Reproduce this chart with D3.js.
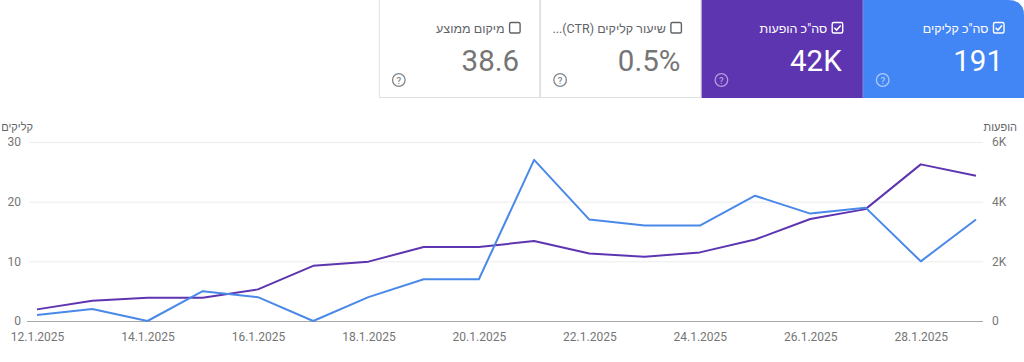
<!DOCTYPE html>
<html>
<head>
<meta charset="utf-8">
<script src="https://cdn.jsdelivr.net/npm/d3@7/dist/d3.min.js"></script>
<style>
  body { margin: 0; background: #fff; }
  svg { display: block; font-family: Roboto, "Liberation Sans", sans-serif; }
</style>
</head>
<body>
<svg width="1024" height="362"></svg>
<script>
const dates = ["12.1.2025","13.1.2025","14.1.2025","15.1.2025","16.1.2025","17.1.2025","18.1.2025","19.1.2025","20.1.2025",
  "21.1.2025","22.1.2025","23.1.2025","24.1.2025","25.1.2025","26.1.2025","27.1.2025","28.1.2025","29.1.2025"];
const clicks = [1, 2, 0, 5, 4, 0, 4, 7, 7, 27, 17, 16, 16, 21, 18, 19, 10, 17];
const impressions = [390, 680, 780, 780, 1060, 1850, 1990, 2480, 2480, 2680, 2260, 2150, 2300, 2730, 3420, 3750, 5250, 4870];
const clickTicks = [0, 10, 20, 30];
const imprTicks = [0, 2000, 4000, 6000];

// summary cards, right to left
const cards = [
  { label: "סה\"כ קליקים", value: "191", on: true, bg: "#4285f4" },
  { label: "סה\"כ הופעות", value: "42K", on: true, bg: "#5e35b1" },
  { label: "שיעור קליקים (CTR)...", value: "0.5%", on: false, bg: "#fff" },
  { label: "מיקום ממוצע", value: "38.6", on: false, bg: "#fff" }
];

const svg = d3.select("svg");

// ---- cards
const cardW = 161.3, cardH = 98;
const cardX = d3.scaleLinear().domain([0, 1]).range([1024 - cardW, 1024 - 2 * cardW]);

svg.append("clipPath").attr("id", "cardclip")
  .append("path")
  .attr("d", "M0,0 H1008 Q1024,0 1024,16 V362 H0 Z");

const cg = svg.append("g").attr("clip-path", "url(#cardclip)");

cards.forEach((c, i) => {
  const x0 = cardX(i);
  const g = cg.append("g").attr("transform", `translate(${x0},0)`);
  const fg = c.on ? "#fff" : "#5f6368";
  g.append("rect")
    .attr("x", 0.5).attr("y", -1)
    .attr("width", cardW - 1).attr("height", cardH + 0.5)
    .attr("fill", c.bg)
    .attr("stroke", c.on ? c.bg : "#e0e0e0");
  // checkbox
  const bx = cardW - 30.5, by = 22.5;
  g.append("rect")
    .attr("x", bx).attr("y", by).attr("width", 10.5).attr("height", 10.5).attr("rx", 1.5)
    .attr("fill", "none").attr("stroke", c.on ? "#fff" : "#5f6368").attr("stroke-width", 1.4);
  if (c.on) {
    g.append("path")
      .attr("d", `M${bx + 2.2},${by + 5.3} L${bx + 4.4},${by + 7.6} L${bx + 8.5},${by + 3}`)
      .attr("fill", "none").attr("stroke", "#fff").attr("stroke-width", 1.5);
  }
  g.append("text")
    .attr("x", bx - 5).attr("y", by + 10)
    .attr("text-anchor", "start")
    .attr("direction", "rtl")
    .attr("font-size", 12.5)
    .attr("fill", fg)
    .text(c.label);
  g.append("text")
    .attr("x", cardW - 21).attr("y", 70.5)
    .attr("text-anchor", "end")
    .attr("font-size", 29.5)
    .attr("fill", c.on ? "#fff" : "#757575")
    .text(c.value);
  // help icon
  const hc = c.on ? (i === 0 ? "#aecbfa" : "#b39ddb") : "#80868b";
  g.append("circle").attr("cx", 20).attr("cy", 80).attr("r", 6.3)
    .attr("fill", "none").attr("stroke", hc).attr("stroke-width", 1.3);
  g.append("text").attr("x", 20).attr("y", 83.5)
    .attr("text-anchor", "middle").attr("font-size", 9.5).attr("font-weight", 500)
    .attr("fill", hc).text("?");
});

// ---- chart
const x = d3.scalePoint().domain(dates).range([37, 976]);
const yL = d3.scaleLinear().domain([0, 30]).range([321, 142]);
const yR = d3.scaleLinear().domain([0, 6000]).range([321, 142]);

const grid = svg.append("g");
grid.selectAll("line").data(clickTicks.slice(1)).join("line")
  .attr("x1", 30).attr("x2", 983)
  .attr("y1", d => yL(d) + 0.5).attr("y2", d => yL(d) + 0.5)
  .attr("stroke", "#ececec");
grid.append("line")
  .attr("x1", 27).attr("x2", 983)
  .attr("y1", yL(0) + 0.5).attr("y2", yL(0) + 0.5)
  .attr("stroke", "#a8a8a8");

const axisL = svg.append("g").attr("transform", "translate(21,0)")
  .call(d3.axisLeft(yL).tickValues(clickTicks).tickSize(0).tickPadding(0));
const axisR = svg.append("g").attr("transform", "translate(992,0)")
  .call(d3.axisRight(yR).tickValues(imprTicks).tickSize(0).tickPadding(0)
    .tickFormat(d => d === 0 ? "0" : (d / 1000) + "K"));
const axisB = svg.append("g").attr("transform", "translate(0,329)")
  .call(d3.axisBottom(x).tickValues(dates.filter((d, i) => i % 2 === 0)).tickSize(0).tickPadding(3));

[axisL, axisR, axisB].forEach(a => {
  a.select(".domain").remove();
  a.selectAll("text").attr("font-size", 12).attr("fill", "#757575")
    .attr("font-family", "Roboto, 'Liberation Sans', sans-serif");
});

svg.append("text").attr("x", 33).attr("y", 131)
  .attr("text-anchor", "start").attr("direction", "rtl")
  .attr("font-size", 11).attr("fill", "#5f6368").text("קליקים");
svg.append("text").attr("x", 1017).attr("y", 131)
  .attr("text-anchor", "start").attr("direction", "rtl")
  .attr("font-size", 11).attr("fill", "#5f6368").text("הופעות");

const lineC = d3.line().x((d, i) => x(dates[i])).y(d => yL(d));
const lineI = d3.line().x((d, i) => x(dates[i])).y(d => yR(d));

svg.append("path").datum(impressions)
  .attr("d", lineI).attr("fill", "none")
  .attr("stroke", "#5e35b1").attr("stroke-width", 2).attr("stroke-linejoin", "round");
svg.append("path").datum(clicks)
  .attr("d", lineC).attr("fill", "none")
  .attr("stroke", "#4a89e8").attr("stroke-width", 2).attr("stroke-linejoin", "round");
</script>
</body>
</html>
